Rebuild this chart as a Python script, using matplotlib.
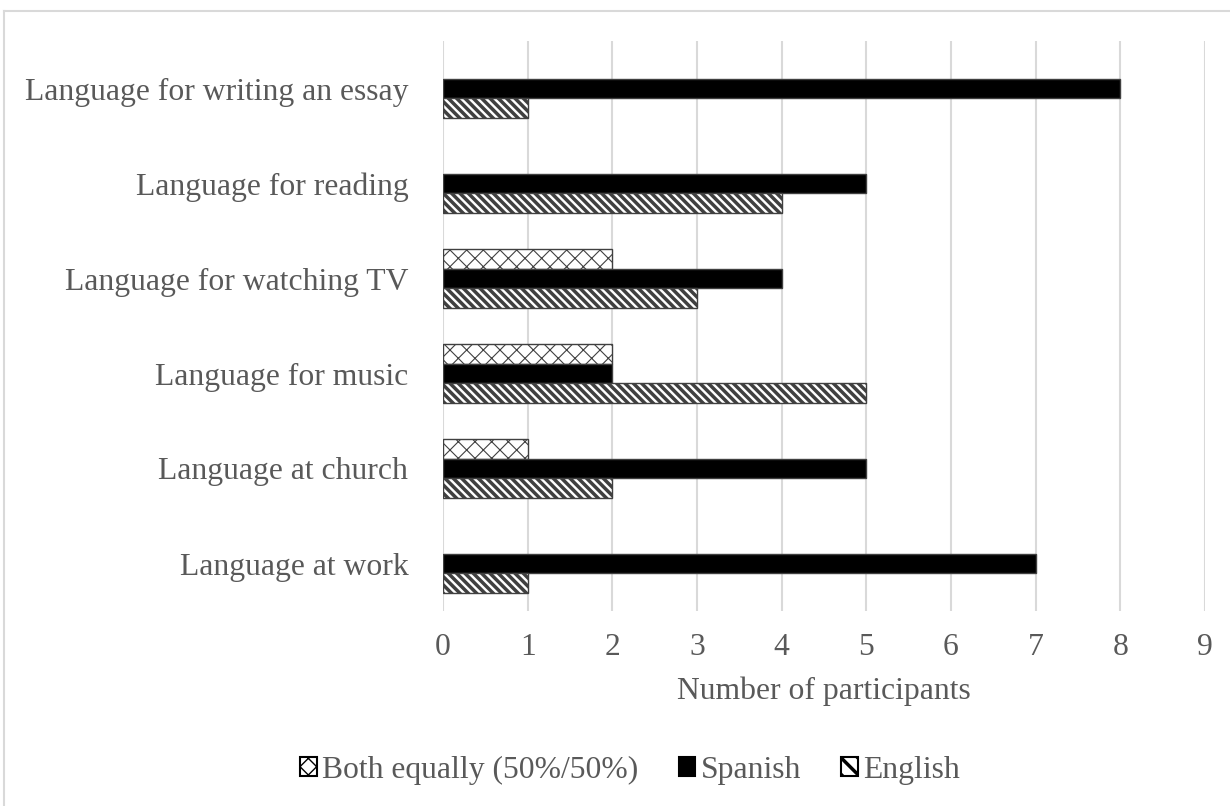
import matplotlib
matplotlib.use('Agg')
import matplotlib.pyplot as plt
import numpy as np
from matplotlib.patches import Patch
from matplotlib.lines import Line2D

plt.rcParams['font.family'] = ['Liberation Serif', 'DejaVu Serif']
plt.rcParams['hatch.color'] = 'black'
plt.rcParams['hatch.linewidth'] = 2.3

categories = ['Language at work', 'Language at church', 'Language for music',
              'Language for watching TV', 'Language for reading',
              'Language for writing an essay']
both = [0, 1, 2, 2, 0, 0]
spanish = [7, 5, 2, 4, 5, 8]
english = [1, 2, 5, 3, 4, 1]
series_names = ['Both equally (50%/50%)', 'Spanish', 'English']
xticks = list(range(10))

text_col = '#595959'
grid_col = '#d9d9d9'
edge_col = '#404040'
fs = 22.8

fig = plt.figure(figsize=(12.3, 8.06), dpi=100)
ax = fig.add_axes([443 / 1230, 1 - 611 / 806, (1205 - 443) / 1230, (611 - 41) / 806])

y = np.arange(len(categories))
h = 0.21


def set_hlw(patch, lw):
    if hasattr(patch, 'set_hatch_linewidth'):
        patch.set_hatch_linewidth(lw)


def hbars(vals, offset, color, hatch, hlw):
    bars = ax.barh(y + offset, vals, height=h, color=color, edgecolor=edge_col,
                   linewidth=1.0, hatch=hatch, zorder=3)
    for b, v in zip(bars, vals):
        if v == 0:
            b.set_visible(False)
        set_hlw(b, hlw)
    return bars


hbars(both, h, 'white', 'xx', 0.8)
hbars(spanish, 0, 'black', None, 1.0)
hbars(english, -h, 'white', '\\\\\\\\', 2.5)

ax.set_xlim(0, 9)
ax.set_ylim(-0.5, len(categories) - 0.5)
ax.set_xticks(xticks)
ax.set_yticks(y)
ax.set_yticklabels(categories)
ax.tick_params(axis='both', length=0, labelsize=fs, labelcolor=text_col)
ax.tick_params(axis='y', pad=25)
ax.tick_params(axis='x', pad=16)
ax.set_xlabel('Number of participants', fontsize=fs, color=text_col, labelpad=10)
ax.grid(axis='x', color=grid_col, linewidth=1.5, zorder=0)
for s in ax.spines.values():
    s.set_visible(False)

handles = [
    Patch(facecolor='white', edgecolor='black', hatch='xx', linewidth=1.5),
    Patch(facecolor='black', edgecolor='black', linewidth=1.5),
    Patch(facecolor='white', edgecolor='black', hatch='\\\\', linewidth=1.5),
]
leg = fig.legend(handles, series_names, loc='center',
                 bbox_to_anchor=(630 / 1230, 1 - 770 / 806),
                 ncol=3, frameon=False, fontsize=fs, labelcolor=text_col,
                 handlelength=0.53, handleheight=0.53, handletextpad=0.16,
                 columnspacing=1.28, borderpad=0)
leg_patches = getattr(leg, 'legend_handles', None) or leg.legendHandles
set_hlw(leg_patches[0], 1.0)
set_hlw(leg_patches[2], 2.5)

# chart area border
fig.add_artist(Line2D([4 / 1230, 4 / 1230], [0, 1 - 11 / 806], color=grid_col,
                      linewidth=1.5, transform=fig.transFigure))
fig.add_artist(Line2D([4 / 1230, 1], [1 - 11 / 806, 1 - 11 / 806], color=grid_col,
                      linewidth=1.5, transform=fig.transFigure))

fig.savefig('out.png', dpi=100)
